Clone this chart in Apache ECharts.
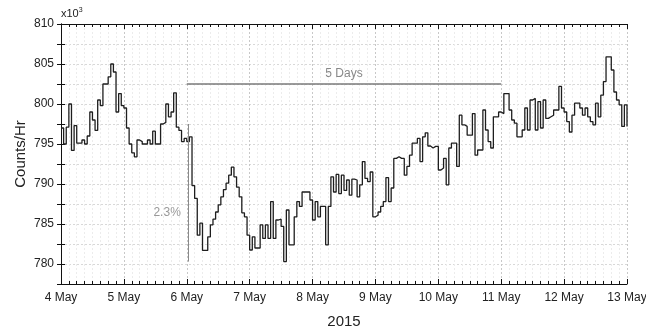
<!DOCTYPE html>
<html><head><meta charset="utf-8">
<script src="https://cdn.jsdelivr.net/npm/echarts@6/dist/echarts.min.js"></script>
<style>html,body{margin:0;padding:0;background:#fff}#c{width:646px;height:329px}</style>
</head><body><div id="c"></div>
<script>
const dayLabels = ['4 May','5 May','6 May','7 May','8 May','9 May','10 May','11 May','12 May','13 May'];
const yLabels = [780, 785, 790, 795, 800, 805, 810];
// hourly counts (x10^3) per day
const may4 = [797, 795, 797.1, 800, 794.2, 797.3, 795.1, 795.1, 795.5, 795, 796, 799, 798, 796.7, 800.5, 799.8, 802.5, 802.5, 803.4, 805, 804, 799, 801.3, 799.8];
const may5 = [799.5, 797, 795, 793.9, 793.4, 795.5, 795.3, 795, 795, 795.5, 795, 796.6, 795, 795, 797.5, 797.7, 800, 798.4, 799, 801.4, 797.1, 796.7, 795.3, 795.7];
const may6 = [795.3, 795.9, 789.8, 788.2, 783.6, 785.1, 781.7, 781.7, 783.4, 784.9, 785.6, 786.5, 787.4, 788.4, 789.3, 790.1, 791.1, 792.1, 790.9, 789.6, 788.4, 786.4, 785.9, 783.6];
const may7 = [781.75, 783.4, 782, 782, 784.9, 783.2, 784.9, 783.2, 787.8, 783.2, 785.5, 785.6, 784.7, 780.3, 786.75, 782.4, 782.4, 785.9, 787.8, 787.2, 789, 789, 789, 788];
const may8 = [785.5, 787.8, 785.9, 787.2, 787.2, 782.4, 787.2, 790.9, 789, 791.2, 788.8, 791.1, 789.2, 790.5, 788.6, 790.6, 790.5, 788.4, 789.9, 792.8, 790.7, 790.3, 791.5, 785.9];
const may9 = [786.1, 786.5, 787.2, 787.8, 790.8, 787.8, 789.5, 793.2, 793.4, 793.2, 793.2, 791.1, 792.2, 793.6, 795.1, 795.1, 795.7, 792.8, 795.9, 796.4, 794.75, 794.5, 794.7, 794.7];
const may10 = [791.75, 792, 793.2, 789.9, 794.5, 795.1, 795.1, 792.2, 798.6, 797.4, 797.2, 796.1, 796.1, 798.8, 793.6, 794.25, 794.25, 799.25, 796.75, 795.3, 794.5, 798.4, 798.4, 799];
const may11 = [798.8, 801.3, 801.3, 799.25, 798, 797.6, 795.9, 795.9, 796.75, 799.5, 796.75, 800.5, 800.7, 796.75, 800.3, 797, 800.5, 798.2, 798.4, 798.6, 799.25, 799.25, 802.2, 799.5];
const may12 = [799, 797.8, 796.5, 798.6, 800.1, 800.1, 799.5, 798.6, 799.5, 798.4, 797.8, 797.4, 800.1, 798.4, 801.1, 802.8, 805.9, 805.9, 804.25, 801.5, 800.5, 799.9, 797.2, 799.9];
const lastValue = 797.2;
// annotations
const spanStartHour = 48, spanEndHour = 168, spanLevel = 802.5, spanLabel = '5 Days';
const dropHour = 48.4, dropLow = 780.3, dropHigh = 797.5, dropLabel = '2.3%', dropLabelPos = [40.5, 786.4];

const allValues = [].concat(may4, may5, may6, may7, may8, may9, may10, may11, may12, [lastValue]);
const seriesData = allValues.map((v, i) => [i, v]);

const chart = echarts.init(document.getElementById('c'), null, {renderer: 'canvas'});
const FONT = 'Liberation Sans, Arial, sans-serif';
const axisCommon = {
  type: 'value', min: 0, max: 216, interval: 24,
  axisLine: {lineStyle: {color: '#111', width: 1}},
  axisTick: {inside: true, length: 5, lineStyle: {color: '#111'}},
  minorTick: {show: true, splitNumber: 8, length: 3, lineStyle: {color: '#111'}}
};
chart.setOption({
  animation: false,
  backgroundColor: '#fff',
  grid: {left: 61, right: 19, top: 24, bottom: 45, containLabel: false, outerBoundsMode: 'none'},
  xAxis: [
    Object.assign({}, axisCommon, {
      position: 'bottom',
      name: '2015', nameLocation: 'middle', nameGap: 30, nameMoveOverlap: false,
      nameTextStyle: {fontFamily: FONT, fontSize: 15, color: '#222'},
      axisLabel: {formatter: v => dayLabels[Math.round(v / 24)], fontFamily: FONT, fontSize: 12, color: '#222', margin: 8},
      splitLine: {show: true, lineStyle: {color: '#c8c8c8', type: [2, 2], width: 1}},
      minorSplitLine: {show: true, lineStyle: {color: '#ececec', type: [2, 2], width: 1}}
    }),
    Object.assign({}, axisCommon, {
      position: 'top', axisLabel: {show: false}, splitLine: {show: false}
    })
  ],
  yAxis: [
    {
      type: 'value', min: 777.5, max: 810, interval: 2.5, position: 'left',
      name: 'Counts/Hr', nameLocation: 'middle', nameGap: 33, nameRotate: 90, nameMoveOverlap: false,
      nameTextStyle: {fontFamily: FONT, fontSize: 15, color: '#222'},
      axisLine: {show: true, lineStyle: {color: '#111'}},
      axisTick: {show: true, inside: true, length: 4, lineStyle: {color: '#111'}},
      axisLabel: {formatter: v => (yLabels.indexOf(v) >= 0 ? String(v) : ''), fontFamily: FONT, fontSize: 12, color: '#222', margin: 7},
      splitLine: {show: true, lineStyle: {color: '#d8d8d8', type: [2, 2]}}
    },
    {
      type: 'value', min: 777.5, max: 810, interval: 2.5, position: 'right',
      axisLine: {show: true, lineStyle: {color: '#111'}},
      axisTick: {show: true, inside: true, length: 4, lineStyle: {color: '#111'}},
      axisLabel: {show: false}, splitLine: {show: false}
    }
  ],
  graphic: [{
    type: 'text', left: 61, top: 7,
    style: {
      text: '{a|x10}{b|3}',
      rich: {a: {fontFamily: FONT, fontSize: 11, fill: '#222'}, b: {fontFamily: FONT, fontSize: 7, fill: '#222', verticalAlign: 'top', padding: [0, 0, 6, 0]}}
    }
  }],
  series: [{
    type: 'line', step: 'end', data: seriesData, showSymbol: false, symbol: 'none',
    lineStyle: {color: '#1e1e1e', width: 1.3},
    markLine: {
      silent: true, symbol: 'none', animation: false,
      data: [
        [{coord: [spanStartHour, spanLevel], lineStyle: {color: '#7a7a7a', width: 1.6, type: 'solid'},
          label: {show: true, position: 'middle', formatter: spanLabel, color: '#888', fontFamily: FONT, fontSize: 12, distance: 4}},
         {coord: [spanEndHour, spanLevel]}],
        [{coord: [dropHour, dropLow], lineStyle: {color: '#8a8a8a', width: 1, type: 'solid'}, label: {show: false}},
         {coord: [dropHour, dropHigh]}]
      ]
    },
    markPoint: {
      silent: true, symbol: 'circle', symbolSize: 0,
      data: [{coord: dropLabelPos, label: {show: true, formatter: dropLabel, color: '#999', fontFamily: FONT, fontSize: 12, position: 'inside'}}]
    }
  }]
});
</script></body></html>
